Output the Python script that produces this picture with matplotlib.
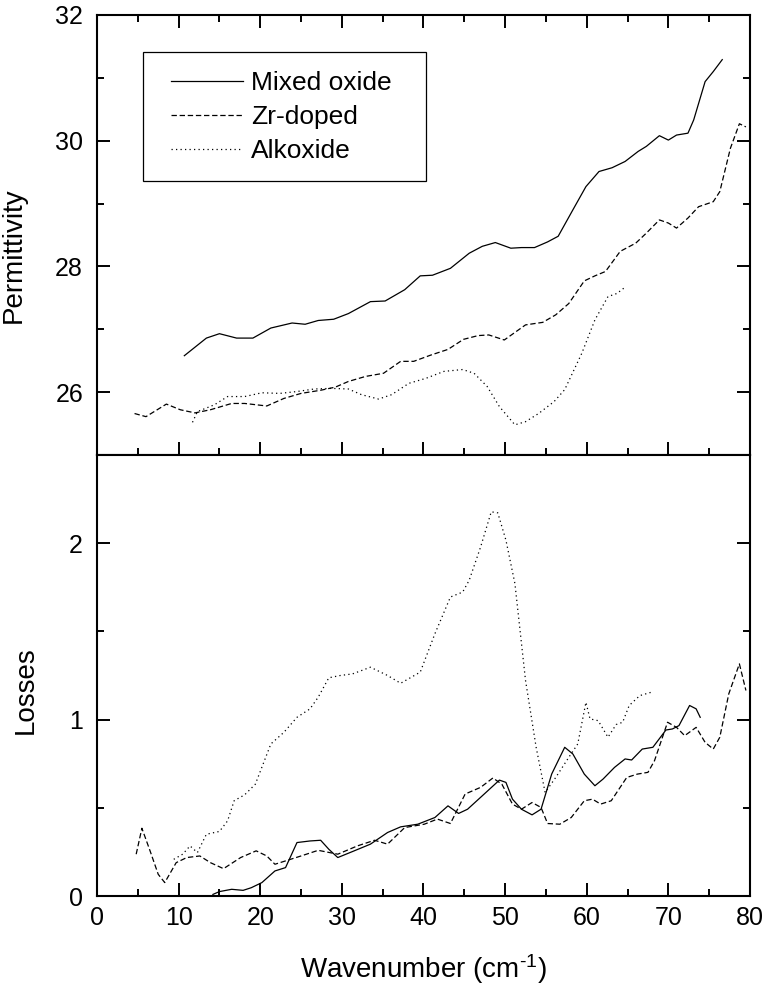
import numpy as np
import matplotlib
matplotlib.use("Agg")
import matplotlib.pyplot as plt
from matplotlib.patches import Rectangle
from matplotlib.ticker import MultipleLocator

plt.rcParams["font.family"] = ["Liberation Sans", "DejaVu Sans"]
plt.rcParams["mathtext.fontset"] = "custom"
plt.rcParams["mathtext.rm"] = "Liberation Sans"

# ── Permittivity (top panel) ─────────────────────────────────────────────────
mixed_perm_x = [10.7, 13.4, 15.0, 17.1, 19.1, 21.3, 23.9, 25.5, 27.1, 29.0, 30.8,
                33.5, 35.3, 37.7, 39.6, 41.1, 43.3, 45.6, 47.2, 48.8, 50.7, 52.0,
                53.6, 55.2, 56.5, 58.3, 59.9, 61.5, 63.1, 64.7, 66.3, 67.3, 68.9,
                70.0, 71.0, 72.4, 73.1, 74.5, 75.5, 76.6]
mixed_perm_y = [26.58, 26.86, 26.93, 26.86, 26.86, 27.02, 27.10, 27.08, 27.14, 27.16,
                27.25, 27.44, 27.45, 27.63, 27.85, 27.86, 27.97, 28.21, 28.32, 28.38,
                28.29, 28.30, 28.30, 28.39, 28.48, 28.90, 29.27, 29.51, 29.57, 29.67,
                29.83, 29.91, 30.08, 30.01, 30.09, 30.12, 30.33, 30.94, 31.10, 31.29]

zr_perm_x = [4.6, 6.0, 8.5, 10.2, 12.0, 13.9, 16.5, 18.1, 20.8, 22.9, 25.0, 27.4,
             29.2, 30.8, 32.9, 35.1, 37.2, 38.8, 40.9, 43.0, 44.9, 46.7, 48.0, 49.9,
             51.2, 52.5, 54.6, 56.2, 57.8, 59.7, 61.0, 62.3, 64.1, 66.0, 67.3, 68.9,
             70.0, 71.0, 72.4, 73.7, 75.5, 76.3, 77.6, 78.7, 79.5]
zr_perm_y = [25.66, 25.61, 25.81, 25.72, 25.67, 25.72, 25.82, 25.82, 25.78, 25.90,
             25.98, 26.03, 26.08, 26.17, 26.25, 26.30, 26.49, 26.49, 26.59, 26.68,
             26.84, 26.90, 26.91, 26.83, 26.95, 27.07, 27.11, 27.23, 27.41, 27.77,
             27.85, 27.92, 28.24, 28.37, 28.53, 28.74, 28.69, 28.61, 28.77, 28.95,
             29.03, 29.19, 29.88, 30.27, 30.22]

alk_perm_x = [11.7, 12.3, 14.4, 16.0, 18.1, 20.2, 22.4, 24.5, 26.6, 28.7, 30.8,
              32.4, 34.5, 36.1, 38.2, 40.3, 42.5, 44.8, 46.2, 47.8, 49.3, 51.2,
              52.5, 54.1, 56.0, 57.3, 59.4, 61.0, 62.6, 63.7, 64.7]
alk_perm_y = [25.52, 25.69, 25.80, 25.93, 25.93, 25.99, 25.98, 26.01, 26.05, 26.06,
              26.05, 25.96, 25.89, 25.96, 26.14, 26.22, 26.33, 26.36, 26.30, 26.09,
              25.77, 25.48, 25.53, 25.66, 25.85, 26.04, 26.62, 27.15, 27.52, 27.57,
              27.67]

# ── Losses (bottom panel) ────────────────────────────────────────────────────
mixed_loss_x = [14.2, 15.0, 16.5, 17.9, 18.9, 20.2, 21.8, 23.1, 24.5, 26.1, 27.4,
                28.4, 29.5, 31.3, 33.5, 35.6, 37.2, 39.3, 41.4, 43.0, 44.3, 45.4,
                47.2, 49.3, 50.1, 50.9, 52.0, 53.3, 54.4, 55.7, 57.3, 58.3, 59.7,
                61.0, 62.0, 63.4, 64.7, 65.5, 66.8, 68.1, 69.7, 70.5, 71.3, 72.6,
                73.4, 73.9]
mixed_loss_y = [0.009, 0.025, 0.038, 0.032, 0.047, 0.076, 0.142, 0.161, 0.303, 0.312,
                0.316, 0.265, 0.218, 0.252, 0.294, 0.360, 0.392, 0.407, 0.445, 0.511,
                0.468, 0.492, 0.568, 0.657, 0.644, 0.549, 0.492, 0.460, 0.492, 0.691,
                0.843, 0.805, 0.691, 0.625, 0.663, 0.729, 0.777, 0.771, 0.833, 0.843,
                0.941, 0.947, 0.966, 1.080, 1.061, 1.013]

zr_loss_x = [4.8, 5.5, 6.5, 7.5, 8.3, 9.7, 11.0, 12.6, 13.9, 15.5, 17.6, 19.5,
             20.8, 21.8, 23.1, 25.0, 27.1, 29.5, 31.9, 34.0, 35.6, 37.7, 40.1, 41.7,
             43.3, 45.1, 47.0, 48.5, 49.6, 50.9, 52.0, 53.3, 54.4, 55.2, 56.7, 58.1,
             59.7, 60.7, 61.7, 63.0, 64.9, 66.2, 67.5, 68.3, 69.9, 71.0, 72.0, 73.4,
             74.5, 75.5, 76.3, 77.4, 78.7, 79.5]
zr_loss_y = [0.237, 0.384, 0.256, 0.123, 0.076, 0.189, 0.218, 0.227, 0.189, 0.155,
             0.218, 0.256, 0.227, 0.180, 0.199, 0.227, 0.259, 0.237, 0.284, 0.316,
             0.294, 0.388, 0.407, 0.436, 0.411, 0.578, 0.616, 0.669, 0.634, 0.521,
             0.492, 0.530, 0.502, 0.411, 0.407, 0.445, 0.540, 0.549, 0.521, 0.540,
             0.672, 0.691, 0.701, 0.767, 0.985, 0.956, 0.909, 0.956, 0.871, 0.833,
             0.900, 1.146, 1.316, 1.165]

alk_loss_x = [9.4, 10.5, 11.4, 12.3, 13.4, 15.0, 16.0, 16.8, 18.1, 19.4, 21.3,
              22.9, 24.5, 26.1, 27.1, 28.4, 29.8, 31.3, 33.5, 35.6, 37.2, 39.6,
              41.4, 43.3, 44.8, 45.6, 47.0, 48.3, 49.1, 50.1, 51.2, 52.5, 53.8,
              54.9, 56.2, 57.8, 58.9, 59.9, 60.4, 61.4, 62.6, 63.6, 64.4, 65.2,
              66.5, 67.9]
alk_loss_y = [0.208, 0.237, 0.284, 0.246, 0.350, 0.366, 0.426, 0.540, 0.574, 0.634,
              0.862, 0.928, 1.013, 1.061, 1.127, 1.237, 1.250, 1.259, 1.297, 1.250,
              1.206, 1.269, 1.487, 1.695, 1.723, 1.790, 1.979, 2.178, 2.172, 2.017,
              1.771, 1.222, 0.843, 0.587, 0.672, 0.786, 0.862, 1.098, 1.004, 0.994,
              0.900, 0.972, 0.985, 1.080, 1.136, 1.155]

labels = ["Mixed oxide", "Zr-doped", "Alkoxide"]
styles = ["-", (0, (4.3, 2.2)), (0, (1.0, 2.6))]
LW = 0.9

fig = plt.figure(figsize=(7.66, 9.94), dpi=100)
ax1 = fig.add_axes([0.12663, 0.54225, 0.85248, 0.44266])
ax2 = fig.add_axes([0.12663, 0.09859, 0.85248, 0.44366])

top_series = [(mixed_perm_x, mixed_perm_y), (zr_perm_x, zr_perm_y), (alk_perm_x, alk_perm_y)]
bot_series = [(mixed_loss_x, mixed_loss_y), (zr_loss_x, zr_loss_y), (alk_loss_x, alk_loss_y)]

for (x, y), ls, lab in zip(top_series, styles, labels):
    ax1.plot(x, y, color="black", linestyle=ls, linewidth=LW, label=lab)
for (x, y), ls in zip(bot_series, styles):
    ax2.plot(x, y, color="black", linestyle=ls, linewidth=LW)

ax1.set_xlim(0, 80)
ax1.set_ylim(25, 32)
ax2.set_xlim(0, 80)
ax2.set_ylim(0, 2.5)

ax1.yaxis.set_major_locator(MultipleLocator(2))
ax1.yaxis.set_minor_locator(MultipleLocator(1))
ax2.yaxis.set_major_locator(MultipleLocator(1))
ax2.yaxis.set_minor_locator(MultipleLocator(0.5))
for ax in (ax1, ax2):
    ax.xaxis.set_major_locator(MultipleLocator(10))
    ax.xaxis.set_minor_locator(MultipleLocator(5))
    for sp in ax.spines.values():
        sp.set_linewidth(1.5)
    ax.tick_params(which="both", direction="in", width=1.4, labelsize=18,
                   left=True, right=True)
    ax.tick_params(which="major", length=9.4)
    ax.tick_params(which="minor", length=5)
    ax.tick_params(axis="y", pad=10)
    ax.tick_params(axis="x", pad=7)

ax1.tick_params(which="both", top=True, bottom=True, labelbottom=False)
ax2.tick_params(which="both", top=False, bottom=True)

ax1.set_ylabel("Permittivity", fontsize=20)
ax1.yaxis.set_label_coords(-0.108, 0.4545)
ax2.set_ylabel("Losses", fontsize=20)
ax2.yaxis.set_label_coords(-0.0896, 0.467)
ax2.set_xlabel("Wavenumber (cm$\\mathregular{^{\\text{-}1}}$)", fontsize=20)
ax2.xaxis.set_label_coords(0.5, -0.128)

# legend box drawn as plain rectangle, entries without frame
ax1.add_patch(Rectangle((0.0704, 0.623), 0.4334, 0.293, transform=ax1.transAxes,
                        fill=False, edgecolor="black", linewidth=0.9, zorder=4))
ax1.legend(loc="upper left", bbox_to_anchor=(0.1133, 0.872), frameon=False,
           fontsize=19, borderpad=0, borderaxespad=0, handlelength=2.73,
           handletextpad=0.3, labelspacing=0.37)

fig.savefig("out.png", dpi=100)
